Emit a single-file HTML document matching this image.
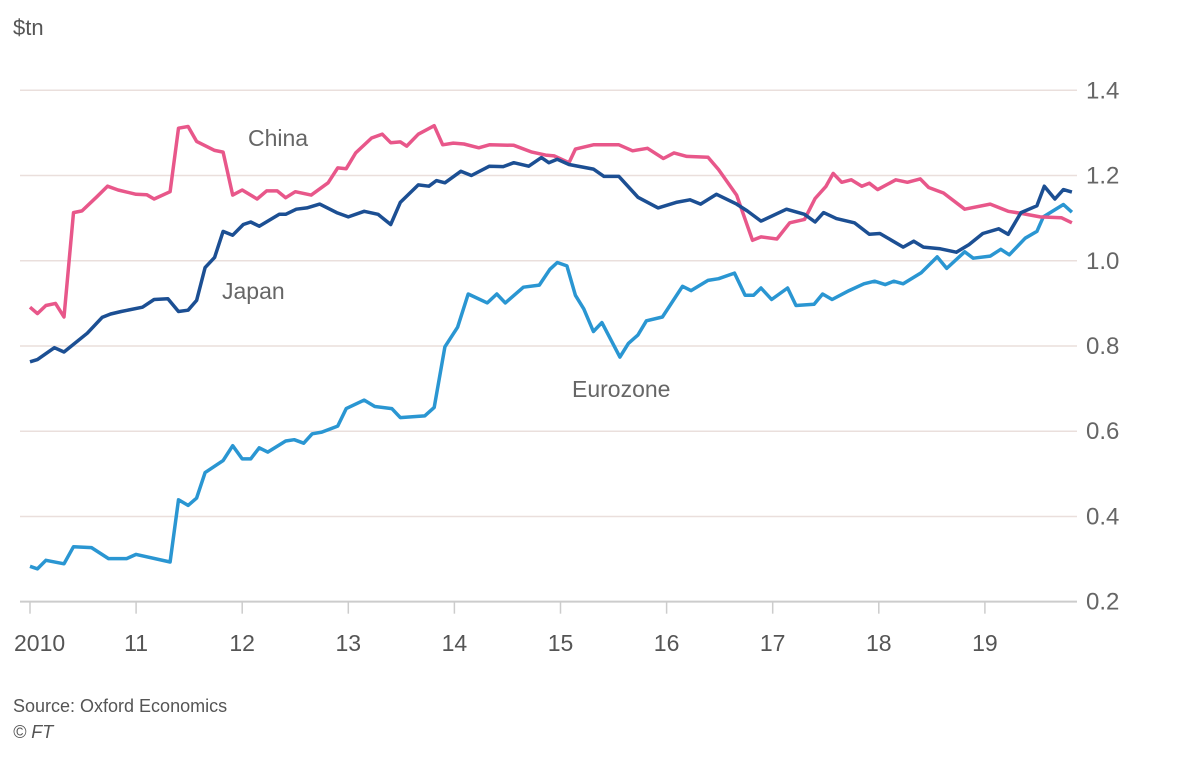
<!DOCTYPE html>
<html><head><meta charset="utf-8"><style>
html,body{margin:0;padding:0;background:#fff;}
body{width:1198px;height:754px;overflow:hidden;font-family:"Liberation Sans",sans-serif;}
svg text{font-family:"Liberation Sans",sans-serif;}
</style></head><body>
<svg id="chart" width="1198" height="754" viewBox="0 0 1198 754">
<text x="13" y="35" font-size="22" fill="#555">$tn</text>
<g id="grid"></g>
<g id="xaxis"></g>
<g id="yaxis"></g>
<g id="series"></g>
<text x="248" y="146" font-size="23" fill="#666">China</text>
<text x="222" y="299" font-size="23" fill="#666">Japan</text>
<text x="572" y="397" font-size="23" fill="#666">Eurozone</text>
<text x="13" y="712" font-size="18" fill="#555">Source: Oxford Economics</text>
<text x="13" y="738" font-size="18" fill="#555" font-style="italic">© FT</text>
</svg>
<script>
const yTicks=[0.2,0.4,0.6,0.8,1.0,1.2,1.4];
const yTickLabels=["0.2","0.4","0.6","0.8","1.0","1.2","1.4"];
const xTicks=[2010,2011,2012,2013,2014,2015,2016,2017,2018,2019];
const xTickLabels=["2010","11","12","13","14","15","16","17","18","19"];
const chinaDates=[2010.0,2010.07,2010.15,2010.24,2010.32,2010.41,2010.49,2010.63,2010.73,2010.83,2011.0,2011.1,2011.17,2011.32,2011.40,2011.49,2011.57,2011.74,2011.82,2011.91,2012.0,2012.14,2012.23,2012.33,2012.41,2012.50,2012.65,2012.81,2012.90,2012.98,2013.07,2013.22,2013.32,2013.40,2013.49,2013.55,2013.66,2013.81,2013.89,2013.99,2014.09,2014.23,2014.33,2014.56,2014.73,2014.86,2014.94,2015.08,2015.14,2015.31,2015.55,2015.68,2015.82,2015.97,2016.07,2016.19,2016.39,2016.49,2016.66,2016.81,2016.89,2017.04,2017.16,2017.30,2017.40,2017.50,2017.57,2017.65,2017.74,2017.84,2017.91,2017.99,2018.16,2018.27,2018.39,2018.47,2018.61,2018.81,2019.05,2019.22,2019.35,2019.52,2019.72,2019.82];
const chinaValues=[0.891,0.876,0.895,0.90,0.868,1.113,1.117,1.15,1.175,1.166,1.156,1.155,1.145,1.162,1.311,1.315,1.28,1.259,1.255,1.154,1.166,1.145,1.164,1.164,1.148,1.162,1.154,1.183,1.218,1.216,1.253,1.288,1.297,1.277,1.279,1.269,1.297,1.317,1.272,1.276,1.274,1.265,1.272,1.271,1.255,1.248,1.246,1.23,1.262,1.272,1.272,1.258,1.264,1.24,1.253,1.245,1.243,1.214,1.154,1.048,1.056,1.051,1.089,1.097,1.146,1.174,1.205,1.184,1.19,1.175,1.182,1.167,1.19,1.184,1.192,1.172,1.159,1.121,1.133,1.116,1.111,1.103,1.101,1.089];
const japanDates=[2010.0,2010.07,2010.23,2010.32,2010.54,2010.68,2010.76,2010.86,2011.06,2011.17,2011.30,2011.40,2011.49,2011.57,2011.65,2011.74,2011.82,2011.91,2012.01,2012.08,2012.16,2012.35,2012.41,2012.51,2012.61,2012.73,2012.89,2013.0,2013.15,2013.28,2013.40,2013.49,2013.66,2013.76,2013.83,2013.91,2014.06,2014.16,2014.33,2014.46,2014.56,2014.70,2014.82,2014.89,2014.97,2015.08,2015.31,2015.41,2015.55,2015.73,2015.92,2016.09,2016.22,2016.32,2016.47,2016.66,2016.76,2016.89,2017.13,2017.30,2017.40,2017.48,2017.60,2017.77,2017.91,2018.01,2018.23,2018.33,2018.42,2018.58,2018.73,2018.85,2018.98,2019.13,2019.22,2019.34,2019.49,2019.56,2019.66,2019.74,2019.82];
const japanValues=[0.763,0.768,0.796,0.786,0.83,0.867,0.875,0.881,0.891,0.909,0.911,0.881,0.884,0.907,0.984,1.008,1.069,1.06,1.085,1.091,1.081,1.109,1.109,1.121,1.124,1.133,1.113,1.103,1.116,1.109,1.085,1.137,1.178,1.175,1.188,1.183,1.21,1.2,1.222,1.221,1.23,1.222,1.242,1.23,1.238,1.226,1.215,1.198,1.198,1.149,1.124,1.137,1.143,1.133,1.156,1.133,1.117,1.093,1.121,1.109,1.091,1.113,1.099,1.089,1.062,1.064,1.032,1.046,1.032,1.028,1.02,1.038,1.064,1.075,1.062,1.113,1.129,1.175,1.145,1.167,1.161];
const euroDates=[2010.0,2010.07,2010.15,2010.32,2010.41,2010.58,2010.74,2010.91,2011.0,2011.32,2011.40,2011.49,2011.57,2011.65,2011.82,2011.91,2012.0,2012.08,2012.16,2012.24,2012.41,2012.49,2012.58,2012.66,2012.75,2012.90,2012.98,2013.15,2013.25,2013.41,2013.49,2013.72,2013.81,2013.91,2014.03,2014.13,2014.31,2014.40,2014.48,2014.65,2014.80,2014.90,2014.97,2015.06,2015.14,2015.22,2015.31,2015.39,2015.56,2015.64,2015.73,2015.81,2015.96,2016.15,2016.23,2016.39,2016.49,2016.64,2016.74,2016.82,2016.89,2016.99,2017.14,2017.22,2017.39,2017.47,2017.56,2017.72,2017.86,2017.96,2018.06,2018.14,2018.23,2018.40,2018.55,2018.64,2018.81,2018.89,2019.05,2019.15,2019.23,2019.38,2019.49,2019.55,2019.74,2019.82];
const euroValues=[0.283,0.277,0.297,0.289,0.329,0.327,0.301,0.301,0.311,0.293,0.439,0.426,0.443,0.503,0.531,0.566,0.535,0.535,0.561,0.551,0.577,0.58,0.572,0.594,0.598,0.612,0.653,0.673,0.658,0.653,0.632,0.636,0.656,0.798,0.844,0.922,0.901,0.922,0.901,0.938,0.943,0.98,0.996,0.988,0.919,0.887,0.834,0.855,0.774,0.806,0.826,0.859,0.868,0.94,0.93,0.954,0.958,0.971,0.919,0.919,0.936,0.909,0.936,0.895,0.898,0.922,0.909,0.93,0.946,0.952,0.944,0.952,0.946,0.972,1.009,0.982,1.021,1.006,1.011,1.027,1.014,1.053,1.069,1.103,1.132,1.114];

const NS="http://www.w3.org/2000/svg";
const X=t=>30+(t-2010)*106.1;
const Y=v=>90.3+(1.4-v)/0.2*85.23;
const grid=document.getElementById('grid'),xa=document.getElementById('xaxis'),ya=document.getElementById('yaxis'),ser=document.getElementById('series');
function mk(tag,attrs,parent){const e=document.createElementNS(NS,tag);for(const k in attrs)e.setAttribute(k,attrs[k]);parent.appendChild(e);return e;}
yTicks.forEach((v,i)=>{
  const l=mk('line',{x1:20,x2:1077,y1:Y(v),y2:Y(v),stroke:i===0?'#ccc':'#eadfdc','stroke-width':i===0?2:1.5},grid);
  
  
  const t=mk('text',{x:1086,y:Y(v)+8,'font-size':24,fill:'#666'},ya);
  t.textContent=yTickLabels[i];
  
  
});
xTicks.forEach((yr,i)=>{
  const l=mk('line',{x1:X(yr),x2:X(yr),y1:Y(0.2),y2:Y(0.2)+12,stroke:'#ccc','stroke-width':1.5},xa);
  
  
  const t=mk('text',{x:i===0?14:X(yr),y:651,'font-size':23,fill:'#555','text-anchor':i===0?'start':'middle'},xa);
  t.textContent=xTickLabels[i];
  
  
});
function line(d,v,color,name){
  const p=mk('path',{d:d.map((t,i)=>(i?'L':'M')+X(t).toFixed(1)+','+Y(v[i]).toFixed(1)).join(''),fill:'none',stroke:color,'stroke-width':3.5,'stroke-linejoin':'round'},ser);
  
  
}
line(euroDates,euroValues,'#2a96d2','line-eurozone');
line(chinaDates,chinaValues,'#e8578a','line-china');
line(japanDates,japanValues,'#1c4f93','line-japan');
</script>
</body></html>
